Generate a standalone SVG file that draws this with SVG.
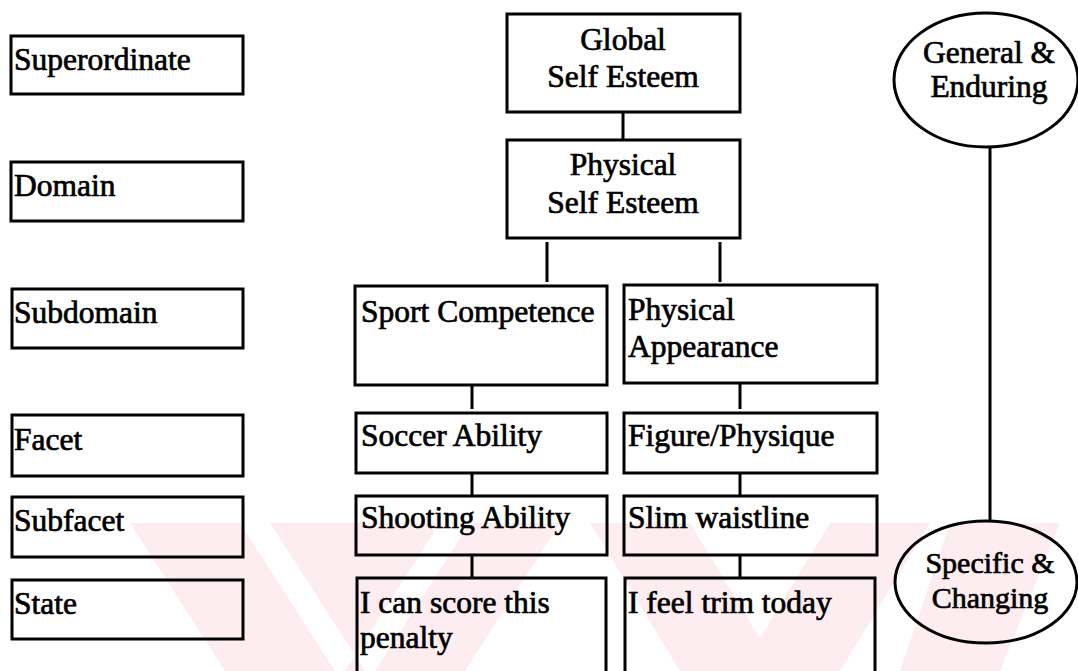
<svg xmlns="http://www.w3.org/2000/svg" width="1078" height="671" viewBox="0 0 1078 671">
  <style>
    .box { fill: none; stroke: #000; stroke-width: 3; }
    .ell { fill: none; stroke: #000; stroke-width: 3; }
    .link { stroke: #000; stroke-width: 3; fill: none; }
    .t { font-family: "Liberation Serif", "Times New Roman", serif; font-size: 31.5px; fill: #000; stroke: #000; stroke-width: 0.7px; }
    .e { font-size: 30px; }
    .c { text-anchor: middle; }
    .mark { fill: #fdedf0; }
  </style>

  <rect x="0" y="0" width="1078" height="671" fill="#fff"/>

  <!-- faint background stripes along the lower edge -->
  <g id="background-stripes">
    <polygon class="mark" points="130,523 240,523 335,671 225,671"/>
    <polygon class="mark" points="270,523 440,523 345,671 365,671"/>
    <polygon class="mark" points="470,523 560,523 465,671 375,671"/>
    <polygon class="mark" points="590,523 690,523 780,671 680,671"/>
    <polygon class="mark" points="830,523 930,523 840,671 740,671"/>
    <polygon class="mark" points="950,523 1060,523 1000,671 900,671"/>
  </g>

  <!-- connectors -->
  <g id="connectors">
    <line class="link" x1="623" y1="112" x2="623" y2="140"/>
    <line class="link" x1="547" y1="242" x2="547" y2="282"/>
    <line class="link" x1="720" y1="242" x2="720" y2="282"/>
    <line class="link" x1="472" y1="385" x2="472" y2="409"/>
    <line class="link" x1="472" y1="474" x2="472" y2="495"/>
    <line class="link" x1="472" y1="556" x2="472" y2="577"/>
    <line class="link" x1="740" y1="384" x2="740" y2="409"/>
    <line class="link" x1="740" y1="474" x2="740" y2="495"/>
    <line class="link" x1="740" y1="556" x2="740" y2="577"/>
    <line class="link" x1="990" y1="147" x2="990" y2="521"/>
  </g>

  <!-- level labels -->
  <g id="level-superordinate">
    <rect class="box" x="11" y="36" width="232" height="58"/>
    <text class="t" x="14" y="70">Superordinate</text>
  </g>
  <g id="level-domain">
    <rect class="box" x="11" y="162" width="232" height="59"/>
    <text class="t" x="14" y="196">Domain</text>
  </g>
  <g id="level-subdomain">
    <rect class="box" x="12" y="289" width="231" height="59"/>
    <text class="t" x="14" y="323">Subdomain</text>
  </g>
  <g id="level-facet">
    <rect class="box" x="12" y="415" width="231" height="61"/>
    <text class="t" x="14" y="450">Facet</text>
  </g>
  <g id="level-subfacet">
    <rect class="box" x="12" y="497" width="231" height="60"/>
    <text class="t" x="14" y="531">Subfacet</text>
  </g>
  <g id="level-state">
    <rect class="box" x="12" y="580" width="231" height="59"/>
    <text class="t" x="14" y="614">State</text>
  </g>

  <!-- hierarchy -->
  <g id="global-self-esteem">
    <rect class="box" x="507" y="14" width="233" height="98"/>
    <text class="t c" x="623" y="50">Global</text>
    <text class="t c" x="623" y="87">Self Esteem</text>
  </g>
  <g id="physical-self-esteem">
    <rect class="box" x="507" y="140" width="233" height="98"/>
    <text class="t c" x="623" y="175">Physical</text>
    <text class="t c" x="623" y="213">Self Esteem</text>
  </g>
  <g id="sport-competence">
    <rect class="box" x="355" y="286" width="252" height="99"/>
    <text class="t" x="361" y="322">Sport Competence</text>
  </g>
  <g id="physical-appearance">
    <rect class="box" x="624" y="285" width="253" height="98"/>
    <text class="t" x="628" y="320">Physical</text>
    <text class="t" x="628" y="357">Appearance</text>
  </g>
  <g id="soccer-ability">
    <rect class="box" x="356" y="413" width="251" height="60"/>
    <text class="t" x="361" y="446">Soccer Ability</text>
  </g>
  <g id="figure-physique">
    <rect class="box" x="624" y="413" width="253" height="60"/>
    <text class="t" x="628" y="446">Figure/Physique</text>
  </g>
  <g id="shooting-ability">
    <rect class="box" x="356" y="496" width="251" height="59"/>
    <text class="t" x="361" y="528">Shooting Ability</text>
  </g>
  <g id="slim-waistline">
    <rect class="box" x="624" y="496" width="253" height="59"/>
    <text class="t" x="628" y="528">Slim waistline</text>
  </g>
  <g id="state-score">
    <path class="box" d="M357,672 V578 H606 V672"/>
    <text class="t" x="360" y="613">I can score this</text>
    <text class="t" x="360" y="648">penalty</text>
  </g>
  <g id="state-trim">
    <path class="box" d="M625,672 V578 H875 V672"/>
    <text class="t" x="628" y="613">I feel trim today</text>
  </g>

  <!-- continuum -->
  <g id="general-enduring">
    <ellipse class="ell" cx="986" cy="80" rx="92" ry="67"/>
    <text class="t c" x="989" y="63">General &amp;</text>
    <text class="t c" x="989" y="97">Enduring</text>
  </g>
  <g id="specific-changing">
    <ellipse class="ell" cx="986" cy="582" rx="91" ry="61"/>
    <text class="t e c" x="990" y="573">Specific &amp;</text>
    <text class="t e c" x="990" y="608">Changing</text>
  </g>
</svg>
